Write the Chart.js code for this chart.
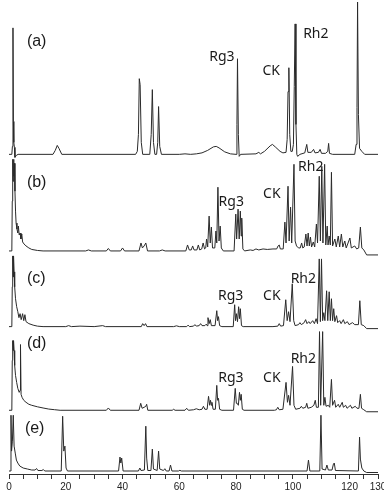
<!DOCTYPE html>
<html>
<head>
<meta charset="utf-8">
<script src="https://cdn.jsdelivr.net/npm/chart.js@4/dist/chart.umd.min.js"></script>
<style>
  html, body { margin: 0; padding: 0; background: #fff; }
  #wrap { width: 384px; height: 501px; }
</style>
</head>
<body>
<div id="wrap"><canvas id="js-chartjs-chromatograms"></canvas></div>
<script>
// Chromatogram traces, [retention time (min), signal] pairs, one list per sample
const traceA = [
  [0, 0], [1.0, 0], [1.2, 8], [1.4, 127], [1.55, 33], [1.7, 12], [1.9, 7], [2.1, -3], [2.6, -1], [3.2, 0],
  [15.5, 0], [16.3, 4], [17, 9], [17.6, 6], [18.6, 0],
  [44.6, 0], [45.2, 3], [45.6, 20], [45.9, 76], [46.2, 70], [46.6, 12], [47.1, 0],
  [49.6, 0], [50.1, 20], [50.5, 65], [50.9, 12], [51.4, 0],
  [52.0, 0], [52.4, 12], [52.7, 48], [53.1, 8], [53.7, 0],
  [60, 0], [62, 0.5], [64, 0], [66, 0.5], [68, 1.5], [70, 4], [72, 7.5], [73, 8], [74, 6.5], [76, 2.5], [78, 0.5],
  [80.0, 0], [80.3, 30], [80.5, 96], [80.8, 20], [81.1, -2], [81.6, 0],
  [87, 0.5], [88, 2], [88.6, 0.5], [90, 3], [92, 8.5], [92.8, 10], [94, 7], [95.5, 3], [96.5, 1.5],
  [97.6, 2], [98.0, 15], [98.3, 63], [98.6, 87], [98.9, 20], [99.3, 3], [99.8, 3],
  [100.2, 10], [100.5, 68], [100.8, 131], [101.1, 30], [101.4, 0], [101.7, -2], [102.5, 0],
  [104.2, 1.5], [104.9, 10], [105.3, 2], [106.5, 2], [107.3, 5], [107.8, 1.5], [109, 2], [109.6, 5], [110.1, 1],
  [111.5, 1], [112.3, 3], [112.6, 11], [112.9, 1], [114, 0],
  [121.8, 0], [122.3, 10], [122.6, 47], [122.8, 153], [123.1, 40], [123.5, 6], [124.3, 3], [125.3, 0], [130, 0]
];

const traceB = [
  [0, 0], [1.0, 0], [1.15, 50], [1.3, 92], [1.45, 70], [1.6, 92], [1.75, 75], [1.9, 88], [2.1, 60], [2.3, 40],
  [2.5, 28], [2.8, 22], [3.1, 18], [3.3, 25], [3.6, 16], [3.9, 18], [4.2, 12], [4.5, 17], [4.8, 9], [5.3, 7],
  [6, 5], [7, 3], [8, 1.5], [10, 0.5], [12, 0],
  [27, 0], [28, 1], [29, 0], [34.3, 0], [35, 2.5], [35.7, 0], [39.3, 0], [40, 3], [40.7, 0],
  [45.8, 0], [46.5, 8], [47.0, 3], [47.6, 5], [48.2, 8], [48.8, 0],
  [53, 0], [54, 1], [55, 0], [62.3, 0], [62.9, 6], [63.5, 1], [64.2, 1], [64.7, 5], [65.2, 1], [66.2, 1], [66.7, 6],
  [67.2, 1], [67.9, 2], [68.4, 8], [68.9, 2], [69.3, 3], [69.6, 12], [70.0, 4], [70.5, 35], [70.9, 8], [71.3, 24],
  [71.7, 3], [72.5, 3], [72.9, 20], [73.2, 8], [73.6, 64], [74.0, 10], [74.4, 25], [74.8, 3], [75.5, 0],
  [79.3, 0], [79.9, 37], [80.2, 12], [80.7, 42], [81.1, 12], [81.5, 40], [81.8, 15], [82.0, 33], [82.4, 2], [83, 0],
  [85, 1], [86, 0.5], [87, 2], [88, 1], [89.5, 2], [91, 1.5], [93, 2], [94.3, 2], [94.8, 5], [95.2, 6], [95.6, 2], [96.6, 2],
  [97.2, 29], [97.6, 8], [98.3, 65], [98.7, 10], [99.2, 44], [99.6, 8], [100.4, 87], [100.8, 10], [101.3, 5], [102, 3],
  [102.6, 3], [103.1, 8], [103.5, 3], [104.0, 4], [104.6, 17], [105.0, 5], [105.4, 18], [105.8, 5], [106.2, 14],
  [106.6, 4], [107.2, 9], [107.7, 4],
  [108.3, 27], [108.7, 8], [109.3, 75], [109.7, 10], [110.2, 85], [110.6, 8], [111.2, 87], [111.6, 6], [112.1, 25],
  [112.4, 6], [112.8, 15], [113.2, 6], [113.6, 79], [114.0, 5], [114.8, 12], [115.3, 4], [116, 15], [116.5, 4],
  [117.1, 17], [117.6, 4], [118.3, 10], [118.8, 3], [120.1, 13], [120.6, 3], [121.8, 5], [122.5, 2], [123.2, 3],
  [123.8, 24], [124.3, 3], [125, 1], [126, -4], [130, -4]
];

const traceC = [
  [0, 0], [1.0, 0], [1.15, 40], [1.3, 71], [1.45, 50], [1.6, 71], [1.8, 55], [2.0, 40], [2.3, 28], [2.7, 20],
  [3.1, 15], [3.5, 9], [3.9, 13], [4.3, 7], [4.8, 13], [5.2, 6], [5.6, 12], [6.0, 5], [7, 3], [8.5, 1.5], [10, 0.5], [12, 0],
  [20, 0], [21, 1], [22, 0], [25, 0.5], [30, 0], [33, 1], [34, 0],
  [46.6, 0], [47.1, 3], [47.6, 1], [48.1, 3], [48.6, 0],
  [58, 0], [59, 0.8], [60, 0], [62.6, 0], [63.1, 1.5], [63.6, 0],
  [65, 0.5], [65.5, 2], [66, 0.5], [67, 1], [67.5, 3], [68, 1], [69, 1], [69.5, 2.5], [69.8, 1], [70.1, 9], [70.5, 3],
  [70.9, 7], [71.3, 1], [72.6, 1], [73.2, 16], [73.5, 6], [73.8, 10], [74.2, 1], [75, 0],
  [79.0, 0], [79.5, 22], [79.8, 6], [80.1, 13], [80.5, 5], [80.9, 20], [81.2, 8], [81.5, 18], [81.9, 1], [82.5, 0],
  [93, 0], [94.7, 0.5], [95.2, 3], [95.7, 0.5], [96.7, 1],
  [97.5, 27], [98.0, 6], [98.5, 15], [99.0, 5], [99.8, 43], [100.3, 6], [100.8, 1],
  [102, 2], [102.5, 4], [103, 2], [104, 4], [104.5, 7], [105, 3], [105.6, 5], [106.1, 3], [107, 6], [107.6, 3], [108.2, 8], [108.7, 3],
  [109.3, 68], [109.7, 5], [110.1, 68], [110.5, 6], [110.9, 14], [111.3, 6], [111.9, 36], [112.3, 6], [112.8, 35],
  [113.2, 6], [113.6, 28], [114.0, 6], [114.4, 18], [114.8, 5], [115.4, 11], [115.8, 4], [116.5, 6], [117, 3],
  [117.8, 7], [118.3, 3], [119.2, 5], [119.8, 2], [121, 4], [121.8, 2], [123.1, 2], [123.6, 26], [124.1, 2],
  [125, 1], [126, -2], [130, -2]
];

const traceD = [
  [0, 0], [1.0, 0], [1.15, 50], [1.3, 70], [1.45, 60], [1.6, 70], [1.8, 60], [2.0, 45], [2.3, 35], [2.7, 28],
  [3.1, 22], [3.6, 18], [3.9, 20], [4.05, 66], [4.25, 16], [4.6, 13], [5.2, 10], [6, 8], [7, 6], [8, 5], [10, 3.5],
  [12, 2.3], [14, 1.2], [16, 0.6], [18, 0],
  [34.3, 0], [35, 2.3], [35.7, 0],
  [45.8, 0], [46.4, 7], [46.9, 2], [47.6, 3], [48.2, 4], [48.5, 6], [48.9, 0],
  [57.5, 0], [58, 1], [58.5, 0], [62, 0], [62.6, 2], [63.2, 0],
  [65, 0.5], [66, 1.5], [67, 0.5], [68, 1], [68.5, 4], [69, 1], [69.8, 1], [70.3, 14], [70.7, 5], [71, 10], [71.3, 5],
  [71.5, 8], [71.9, 1], [72.7, 1], [73.2, 25], [73.5, 10], [73.8, 12], [74.2, 1], [75, 0],
  [79.1, 0], [79.7, 22], [80.1, 7], [80.4, 7], [80.8, 5], [81.2, 18], [81.5, 10], [81.8, 16], [82.2, 1], [82.8, 0],
  [93.5, 0], [94.2, 0.5], [94.7, 3], [95.2, 0.5], [96.5, 1],
  [97.6, 28], [98.1, 8], [98.5, 15], [99, 5], [99.9, 44], [100.4, 5], [101, 1],
  [102.5, 2], [103, 4], [103.5, 2], [104.5, 3], [104.9, 7], [105.3, 2], [106.5, 3], [107.4, 5], [107.9, 10], [108.3, 3], [109, 3],
  [109.4, 79], [109.8, 5], [110.5, 79], [110.9, 5], [111.3, 13], [111.7, 4], [112.5, 5], [113.0, 3], [113.6, 31],
  [114.0, 5], [114.7, 10], [115.1, 3], [116, 6], [116.5, 3], [117.4, 8], [117.8, 3], [118.6, 5], [119.1, 2],
  [120.3, 5], [120.8, 2], [122, 4], [122.6, 2], [123.3, 2], [123.8, 16], [124.2, 2], [125, 0.5], [126, -1.5], [130, -1.5]
];

const traceE = [
  [0, 0], [0.5, 0], [0.7, 56], [0.9, 20], [1.2, 30], [1.5, 56], [1.8, 25], [2.2, 18], [2.6, 11], [3.1, 8], [3.8, 5],
  [5, 3], [6.5, 2], [8, 1], [9.2, 1], [9.7, 2.5], [10.2, 0.5], [11.6, 0.5], [12.1, 1.5], [12.6, 0],
  [18.4, 0], [18.9, 55], [19.3, 20], [19.7, 25], [20.1, 3], [20.6, 0],
  [38.6, 0], [39.1, 14], [39.4, 8], [39.7, 13], [40.2, 0],
  [45.6, 0], [46.1, 3], [46.5, 0.5], [47.7, 1], [48.2, 45], [48.5, 13], [48.9, 0.5],
  [50.0, 0.5], [50.5, 22], [50.9, 2], [52.2, 0.5], [52.7, 20], [53.1, 2], [54.4, 0.5], [54.9, 2.3], [55.4, 0],
  [56.4, 0], [56.9, 6], [57.4, 0], [59.7, 0], [60.2, 0.7], [60.7, 0],
  [105, 0], [105.5, 11], [106, 0], [109.5, 0], [109.9, 56], [110.3, 2], [111.5, 1], [112, 6], [112.5, 1],
  [113.8, 1], [114.3, 7], [114.6, 8], [115, 0.5],
  [123.1, 0], [123.5, 34], [123.8, 12], [124.3, 3], [125, 0], [126, -1.5], [130, -1.5]
];

const traces = [traceA, traceB, traceC, traceD, traceE];
const panelNames = ['(a)', '(b)', '(c)', '(d)', '(e)'];

// Peak names: panel index, text, anchor [time, signal]
const peakLabels = [
  [0, 'Rg3', 75.0, 98], [0, 'CK', 92.4, 84], [0, 'Rh2', 108.1, 121],
  [1, 'Rg3', 78.3, 49], [1, 'CK', 92.6, 57], [1, 'Rh2', 106.3, 84],
  [2, 'Rg3', 78.1, 30.5], [2, 'CK', 92.6, 31], [2, 'Rh2', 103.7, 48],
  [3, 'Rg3', 78.2, 32], [3, 'CK', 92.6, 32], [3, 'Rh2', 103.7, 51]
];

// Layout of the stacked panels (px height and signal floor of each strip)
const panelHeights = [158, 96, 75, 84, 61];
const panelFloors = [-5, -4, -3, -3, -3];
const panelNameAt = [[6.3, 113], [6.3, 69], [6.3, 48], [6.3, 67], [5.6, 43]];

class pageChromatograms {
  static initChart() {
    Chart.defaults.font.family = '"Liberation Sans", Arial, sans-serif';
    Chart.defaults.color = '#222';
    Chart.defaults.plugins.legend.display = false;
    Chart.defaults.plugins.tooltip.enabled = false;

    let chartCon = document.getElementById('js-chartjs-chromatograms');
    let axisIds = panelNames.map((n, i) => 'y' + i);

    let chartData = {
      datasets: traces.map((tr, i) => ({
        label: panelNames[i],
        data: tr.map(p => ({x: p[0], y: p[1]})),
        yAxisID: axisIds[i],
        borderColor: '#2a2a2a',
        borderWidth: 1,
        pointRadius: 0,
        tension: 0,
        fill: false,
        clip: false
      }))
    };

    let scales = {
      x: {
        type: 'linear',
        min: 0,
        max: 130,
        border: {color: '#333', width: 1},
        grid: {drawOnChartArea: false, tickLength: 5, color: '#333'},
        ticks: {
          stepSize: 5,
          autoSkip: false,
          maxRotation: 0,
          padding: 2,
          color: '#222',
          font: {size: 10},
          callback: v => (v % 20 === 0 || v === 130) ? v : ''
        },
        afterFit: s => { s.paddingRight = 0; s.paddingLeft = 0; }
      }
    };
    // left-side stacks are laid out bottom first, so add the lowest panel first
    for (let i = axisIds.length - 1; i >= 0; i--) {
      scales[axisIds[i]] = {
        type: 'linear',
        display: false,
        stack: 'panels',
        stackWeight: panelHeights[i],
        min: panelFloors[i],
        max: panelFloors[i] + panelHeights[i]
      };
    }

    // Panel letters and peak names
    let textPlugin = {
      id: 'chromLabels',
      afterDatasetsDraw(chart) {
        let ctx = chart.ctx;
        let xs = chart.scales.x;
        ctx.save();
        ctx.fillStyle = '#1a1a1a';
        ctx.textBaseline = 'middle';

        ctx.font = '16px "Liberation Sans", Arial, sans-serif';
        ctx.textAlign = 'left';
        panelNames.forEach((name, i) => {
          let ys = chart.scales[axisIds[i]];
          ctx.fillText(name, xs.getPixelForValue(panelNameAt[i][0]), ys.getPixelForValue(panelNameAt[i][1]));
        });

        ctx.font = '14px "Noto Sans", "DejaVu Sans", sans-serif';
        ctx.textAlign = 'center';
        peakLabels.forEach(l => {
          let ys = chart.scales[axisIds[l[0]]];
          ctx.fillText(l[1], xs.getPixelForValue(l[2]), ys.getPixelForValue(l[3]));
        });
        ctx.restore();
      }
    };

    new Chart(chartCon, {
      type: 'line',
      data: chartData,
      options: {
        responsive: true,
        maintainAspectRatio: false,
        animation: false,
        devicePixelRatio: 1,
        layout: {padding: {left: 9, right: 6, top: 2, bottom: 6}},
        scales: scales
      },
      plugins: [textPlugin]
    });
  }

  static init() {
    this.initChart();
  }
}

pageChromatograms.init();
</script>
</body>
</html>
